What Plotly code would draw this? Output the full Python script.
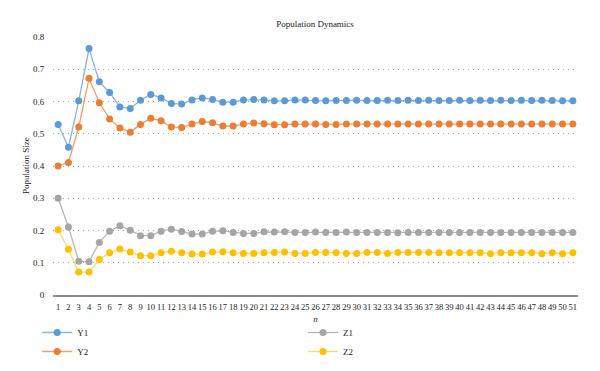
import plotly.graph_objects as go

n_labels = [str(i) for i in range(1, 52)]

Y1 = [0.529, 0.458, 0.602, 0.764, 0.661, 0.628, 0.583, 0.578, 0.604, 0.622,
      0.611, 0.594, 0.592, 0.605, 0.611, 0.606, 0.598, 0.598, 0.605, 0.606,
      0.605, 0.602, 0.602, 0.605, 0.605, 0.603, 0.602, 0.603, 0.603, 0.604,
      0.603, 0.603, 0.604, 0.603, 0.604, 0.603, 0.604, 0.603, 0.603, 0.604,
      0.603, 0.604, 0.603, 0.604, 0.603, 0.604, 0.603, 0.604, 0.603, 0.602,
      0.602]
Y2 = [0.400, 0.411, 0.521, 0.672, 0.596, 0.546, 0.518, 0.505, 0.529, 0.548,
      0.540, 0.521, 0.519, 0.530, 0.538, 0.534, 0.524, 0.524, 0.530, 0.533,
      0.531, 0.528, 0.528, 0.530, 0.530, 0.530, 0.529, 0.529, 0.530, 0.530,
      0.530, 0.530, 0.530, 0.530, 0.530, 0.530, 0.530, 0.530, 0.530, 0.530,
      0.530, 0.530, 0.530, 0.530, 0.530, 0.530, 0.530, 0.530, 0.530, 0.530,
      0.530]
Z1 = [0.300, 0.211, 0.105, 0.103, 0.163, 0.198, 0.215, 0.201, 0.184, 0.184,
      0.198, 0.204, 0.197, 0.189, 0.189, 0.198, 0.199, 0.194, 0.191, 0.191,
      0.196, 0.195, 0.196, 0.194, 0.194, 0.195, 0.194, 0.194, 0.195, 0.194,
      0.194, 0.194, 0.194, 0.193, 0.194, 0.194, 0.194, 0.194, 0.194, 0.194,
      0.194, 0.194, 0.194, 0.194, 0.194, 0.194, 0.194, 0.194, 0.194, 0.194,
      0.194]
Z2 = [0.202, 0.142, 0.071, 0.071, 0.110, 0.131, 0.143, 0.133, 0.122, 0.122,
      0.131, 0.136, 0.131, 0.127, 0.127, 0.133, 0.134, 0.131, 0.129, 0.129,
      0.131, 0.132, 0.133, 0.129, 0.129, 0.132, 0.132, 0.131, 0.129, 0.129,
      0.132, 0.132, 0.129, 0.132, 0.132, 0.132, 0.132, 0.131, 0.131, 0.131,
      0.131, 0.131, 0.128, 0.131, 0.131, 0.131, 0.131, 0.128, 0.131, 0.128,
      0.131]

series = [
    ("Y1", Y1, "#5B9BD5", "rgba(91,155,213,0.75)", "legend"),
    ("Y2", Y2, "#ED7D31", "rgba(237,125,49,0.75)", "legend"),
    ("Z1", Z1, "#A5A5A5", "rgba(165,165,165,0.8)", "legend2"),
    ("Z2", Z2, "#FFC000", "rgba(255,192,0,0.6)", "legend2"),
]

FONT = "Liberation Serif, Times New Roman, serif"

fig = go.Figure()
for name, vals, color, lcolor, leg in series:
    fig.add_trace(go.Scatter(
        x=n_labels, y=vals, name=name, mode="lines+markers",
        line=dict(color=lcolor, width=1.3),
        marker=dict(color=color, size=7),
        legend=leg,
    ))

fig.update_layout(
    width=600, height=371,
    margin=dict(l=53, r=22, t=37, b=76, autoexpand=False),
    paper_bgcolor="white", plot_bgcolor="white",
    font=dict(family=FONT, size=9, color="#222"),
    title=dict(text="Population Dynamics", x=0.525, xanchor="center",
               xref="container", yref="container",
               y=1 - 24 / 371, yanchor="middle",
               font=dict(size=9, family=FONT, color="#222")),
    showlegend=True,
    legend=dict(xref="container", yref="container", x=0.062, y=1 - 318 / 371,
                xanchor="left", yanchor="top",
                orientation="v", font=dict(size=9, family=FONT),
                itemwidth=30, tracegroupgap=0, bgcolor="rgba(0,0,0,0)"),
    legend2=dict(xref="container", yref="container", x=0.505, y=1 - 318 / 371,
                 xanchor="left", yanchor="top",
                 orientation="v", font=dict(size=9, family=FONT),
                 itemwidth=30, tracegroupgap=0, bgcolor="rgba(0,0,0,0)"),
    annotations=[dict(
        text="Population Size", textangle=-90, showarrow=False,
        xref="paper", yref="paper", x=-27 / 525, y=0.5,
        xanchor="center", yanchor="middle",
        font=dict(size=9, family=FONT, color="#222"),
    )],
)
fig.update_xaxes(
    type="category", range=[-0.5, 50.5], showgrid=False, showline=True,
    linecolor="#8a8a8a", linewidth=2, ticks="outside", ticklen=3,
    tickcolor="rgba(0,0,0,0)", tickfont=dict(size=8.5, family=FONT),
    tickmode="linear", dtick=1, tickangle=0, automargin=True,
    title=dict(text="<i>n</i>", font=dict(size=9, family=FONT), standoff=4),
    zeroline=False,
)
fig.update_yaxes(
    range=[0, 0.8], tickvals=[0, 0.1, 0.2, 0.3, 0.4, 0.5, 0.6, 0.7, 0.8],
    ticktext=["0", "0.1", "0.2", "0.3", "0.4", "0.5", "0.6", "0.7", "0.8"],
    showgrid=True, gridcolor="#a8a8a8", griddash="1px,4px", gridwidth=1,
    zeroline=False, showline=False, ticks="outside", ticklen=6,
    tickcolor="rgba(0,0,0,0)", automargin=True,
    tickfont=dict(size=9, family=FONT),
)

fig.write_html(
    "out.html",
    config={"displayModeBar": False},
    post_script="document.body.style.margin='0';document.body.style.overflow='hidden';",
)
